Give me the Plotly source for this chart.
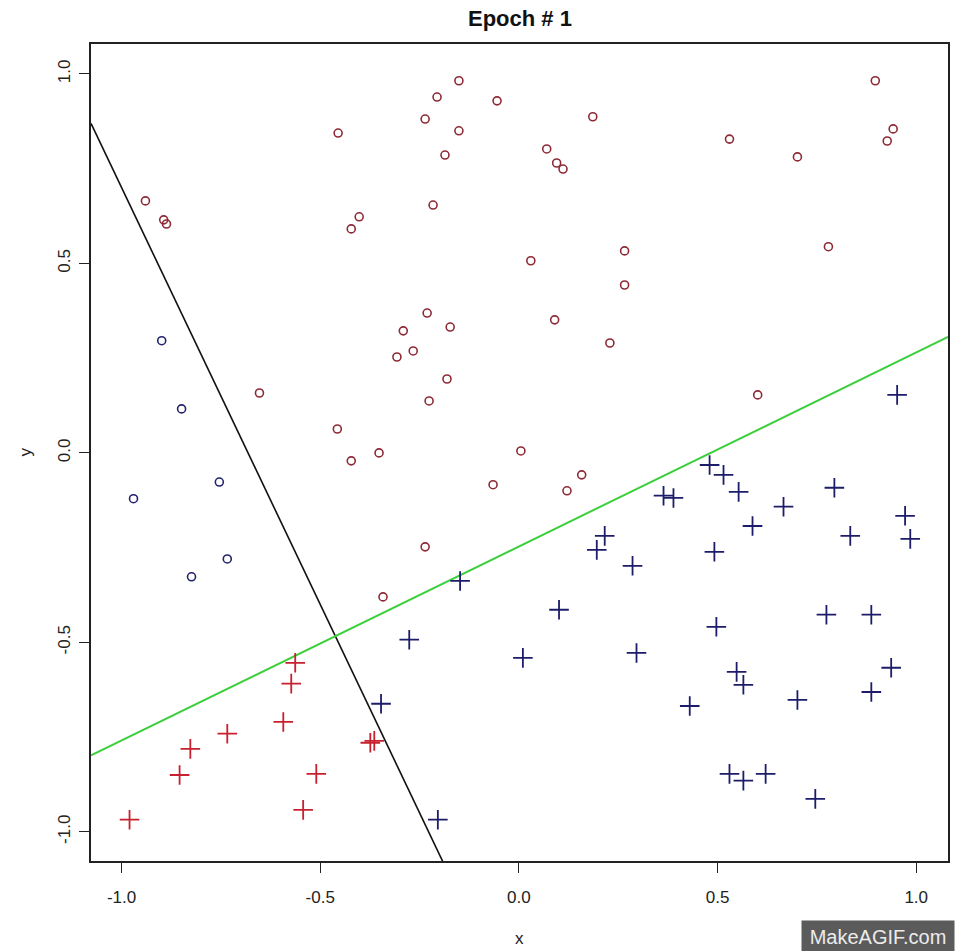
import plotly.graph_objects as go

# Class "o" points currently on the positive side (dark red circles)
red_circle_x = [-0.940, -0.894, -0.887, -0.151, -0.206, -0.055, -0.236, 0.186, -0.455, -0.151,
                -0.186, 0.070, 0.095, 0.111, -0.216, -0.402, -0.422, 0.030, 0.266, 0.266,
                -0.231, 0.090, 0.897, 0.530, 0.701, 0.942, 0.927, 0.779, -0.653, -0.291,
                -0.173, -0.307, -0.266, -0.181, -0.226, -0.457, -0.422, -0.352, 0.005, -0.065,
                0.121, 0.158, -0.236, -0.342, 0.229, 0.601]
red_circle_y = [0.665, 0.615, 0.604, 0.982, 0.939, 0.929, 0.881, 0.887, 0.844, 0.850,
                0.786, 0.802, 0.765, 0.749, 0.654, 0.623, 0.591, 0.507, 0.533, 0.443,
                0.369, 0.351, 0.982, 0.828, 0.781, 0.855, 0.823, 0.544, 0.158, 0.322,
                0.332, 0.253, 0.269, 0.195, 0.137, 0.063, -0.021, 0.000, 0.005, -0.084,
                -0.100, -0.058, -0.248, -0.380, 0.290, 0.153]

# Class "o" points on the negative side (blue circles)
blue_circle_x = [-0.899, -0.849, -0.754, -0.970, -0.734, -0.824]
blue_circle_y = [0.296, 0.116, -0.077, -0.121, -0.280, -0.327]

# Class "+" points on the negative side (blue crosses)
blue_plus_x = [0.216, 0.196, 0.286, -0.148, 0.101, -0.276, 0.952, 0.480, 0.515, 0.553,
               0.364, 0.389, 0.794, 0.666, 0.588, 0.972, 0.985, 0.834, 0.492, 0.774,
               0.887, 0.497, 0.010, -0.347, -0.204, 0.296, 0.548, 0.565, 0.430, 0.701,
               0.887, 0.937, 0.530, 0.565, 0.621, 0.746]
blue_plus_y = [-0.219, -0.256, -0.298, -0.338, -0.414, -0.493, 0.153, -0.032, -0.058, -0.103,
               -0.113, -0.119, -0.092, -0.142, -0.193, -0.166, -0.227, -0.219, -0.261, -0.427,
               -0.427, -0.459, -0.541, -0.662, -0.968, -0.528, -0.578, -0.612, -0.668, -0.652,
               -0.631, -0.567, -0.847, -0.865, -0.847, -0.913]

# Class "+" points on the positive side (red crosses)
red_plus_x = [-0.563, -0.573, -0.593, -0.734, -0.827, -0.854, -0.980, -0.510, -0.543, -0.374, -0.364]
red_plus_y = [-0.554, -0.609, -0.710, -0.741, -0.781, -0.850, -0.968, -0.847, -0.942, -0.765, -0.760]

# Decision lines: y = intercept + slope * x
black_line = {"intercept": -1.50, "slope": -2.20}
green_line = {"intercept": -0.247, "slope": 0.512}

x_range = [-1.077, 1.080]
y_range = [-1.077, 1.079]
tick_vals = [-1.0, -0.5, 0.0, 0.5, 1.0]
tick_text = ["-1.0", "-0.5", "0.0", "0.5", "1.0"]

FONT = "Liberation Sans, Arial, sans-serif"


def line_points(coef):
    xs = [x_range[0], x_range[1]]
    ys = [coef["intercept"] + coef["slope"] * v for v in xs]
    return xs, ys


fig = go.Figure()

bx, by = line_points(black_line)
fig.add_trace(go.Scatter(x=bx, y=by, mode="lines",
                         line=dict(color="#111111", width=1.6), hoverinfo="skip"))
gx, gy = line_points(green_line)
fig.add_trace(go.Scatter(x=gx, y=gy, mode="lines",
                         line=dict(color="#3ccf3c", width=2), hoverinfo="skip"))

fig.add_trace(go.Scatter(x=red_circle_x, y=red_circle_y, mode="markers",
                         marker=dict(symbol="circle-open", size=8, color="#8e2a36",
                                     line=dict(width=1.6, color="#8e2a36"))))
fig.add_trace(go.Scatter(x=blue_circle_x, y=blue_circle_y, mode="markers",
                         marker=dict(symbol="circle-open", size=8, color="#22226e",
                                     line=dict(width=1.6, color="#22226e"))))
fig.add_trace(go.Scatter(x=blue_plus_x, y=blue_plus_y, mode="markers",
                         marker=dict(symbol="cross-thin-open", size=14, color="#1c1c6a",
                                     line=dict(width=1.8, color="#1c1c6a"))))
fig.add_trace(go.Scatter(x=red_plus_x, y=red_plus_y, mode="markers",
                         marker=dict(symbol="cross-thin-open", size=14, color="#c8202e",
                                     line=dict(width=1.8, color="#c8202e"))))

axis_common = dict(
    showgrid=False, zeroline=False,
    showline=True, mirror=True, linecolor="#222222", linewidth=1.5,
    ticks="outside", ticklen=10, tickwidth=1.2, tickcolor="#222222",
    tickvals=tick_vals, ticktext=tick_text,
    tickfont=dict(family=FONT, size=17, color="#222222"),
)

fig.update_layout(
    width=957, height=951,
    margin=dict(l=91, r=7, t=44, b=90),
    paper_bgcolor="white", plot_bgcolor="white",
    showlegend=False,
    xaxis=dict(range=x_range, ticklabelstandoff=10, **axis_common),
    yaxis=dict(range=y_range, tickangle=-90, ticklabelstandoff=2, **axis_common),
    annotations=[
        dict(text="Epoch # 1", xref="paper", yref="paper", x=0.5, y=1, yshift=26,
             xanchor="center", yanchor="middle", showarrow=False,
             font=dict(family=FONT, size=22, color="#111111", weight="bold")),
        dict(text="x", xref="paper", yref="paper", x=0.5, y=0, yshift=-77,
             xanchor="center", yanchor="middle", showarrow=False,
             font=dict(family=FONT, size=17, color="#222222")),
        dict(text="y", xref="paper", yref="paper", x=0, y=0.5, xshift=-66,
             xanchor="center", yanchor="middle", showarrow=False, textangle=-90,
             font=dict(family=FONT, size=17, color="#222222")),
        dict(text="MakeAGIF.com", xref="paper", yref="paper", x=1, y=0,
             xshift=7, yshift=-59, xanchor="right", yanchor="top", showarrow=False,
             width=152, height=31, borderpad=0, bgcolor="#5b5b5b",
             font=dict(family=FONT, size=20, color="#ececec")),
    ],
)

fig.write_html("out.html")
